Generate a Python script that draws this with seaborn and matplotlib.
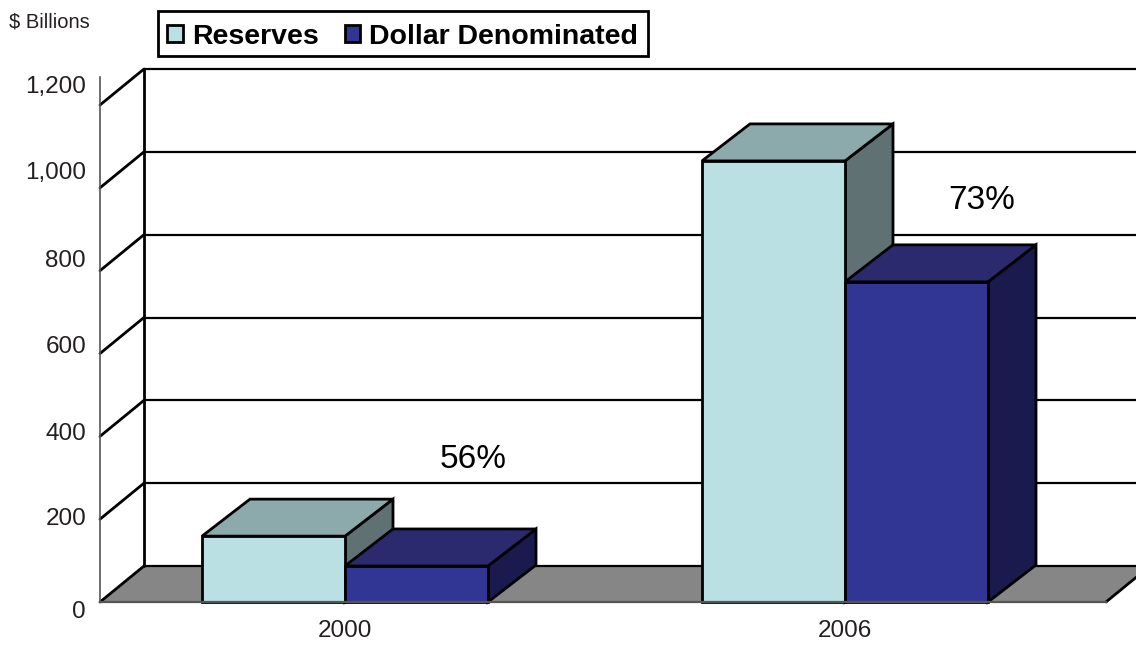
import matplotlib
matplotlib.use("Agg")
import matplotlib.pyplot as plt
from matplotlib.patches import Polygon, Rectangle
from matplotlib.transforms import ScaledTranslation
import pandas as pd
import seaborn as sns

years = ["2000", "2006"]
series_names = ["Reserves", "Dollar Denominated"]
reserves = [159, 1065]
dollar_denominated = [87, 773]
y_ticks = [0, 200, 400, 600, 800, 1000, 1200]
y_tick_labels = ["0", "200", "400", "600", "800", "1,000", "1,200"]
share_labels = ["56%", "73%"]

FRONT = ["#BAE0E3", "#313594"]
TOP = ["#8CAAAC", "#2C2A6E"]
SIDE = ["#5F7173", "#1B1A4E"]
ARIAL = ["Liberation Sans", "DejaVu Sans"]
INK = "#231F20"

sns.set_theme(style="white")
W, H = 1136, 645
fig = plt.figure(figsize=(W / 100, H / 100), dpi=100, facecolor="white")
ax = fig.add_axes([100 / W, (H - 602) / H, 1006 / W, 497 / H])

df = pd.DataFrame({
    "Year": years * 2,
    "Series": [series_names[0]] * 2 + [series_names[1]] * 2,
    "Value": reserves + dollar_denominated,
})
sns.barplot(data=df, x="Year", y="Value", hue="Series", order=years,
            hue_order=series_names, palette=FRONT, width=0.572, gap=0,
            saturation=1, edgecolor="black", linewidth=2, ax=ax, zorder=6)

ax.set_xlim(-0.49, 1.522)
ax.set_ylim(0, 1200)
ax.set_xlabel("")
ax.set_ylabel("")
ax.patch.set_alpha(0)

PX_X = 500.0          # pixels per category
PX_Y = 497 / 1200     # pixels per value unit
wall_dx, wall_dy = 44 / PX_X, 36 / PX_Y
bar_dx, bar_dy = 48 / PX_X, 37 / PX_Y
x0, x1 = ax.get_xlim()

bars = [p for p in ax.patches if isinstance(p, Rectangle) and p.get_height() > 0]

# floor and back wall
ax.add_patch(Polygon([(x0, 0), (x0 + wall_dx, wall_dy), (x1 + wall_dx, wall_dy), (x1, 0)],
                     closed=True, fc="#868686", ec="none", zorder=1, clip_on=False))
for v in y_ticks:
    ax.plot([x0 + wall_dx, x1 + 0.1], [v + wall_dy] * 2, color="black", lw=1.6,
            zorder=1.5, clip_on=False, solid_capstyle="butt")
    ax.plot([x0, x0 + wall_dx], [v, v + wall_dy], color="black", lw=2,
            zorder=1.5, clip_on=False)
ax.plot([x0 + wall_dx] * 2, [wall_dy, 1200 + wall_dy], color="black", lw=2,
        zorder=1.5, clip_on=False)
ax.plot([x1, x1 + wall_dx], [0, wall_dy], color="black", lw=2, zorder=1.5, clip_on=False)

# the 3D faces of each bar, derived from the bars seaborn drew
for i, p in enumerate(bars):
    k = i // 2
    x, w, h = p.get_x(), p.get_width(), p.get_height()
    z = 2 + k
    ax.add_patch(Polygon([(x + w, 0), (x + w + bar_dx, bar_dy), (x + w + bar_dx, h + bar_dy), (x + w, h)],
                         closed=True, fc=SIDE[k], ec="black", lw=2, zorder=z, clip_on=False,
                         joinstyle="miter"))
    ax.add_patch(Polygon([(x, h), (x + bar_dx, h + bar_dy), (x + w + bar_dx, h + bar_dy), (x + w, h)],
                         closed=True, fc=TOP[k], ec="black", lw=2, zorder=z + 0.5, clip_on=False,
                         joinstyle="miter"))
    p.set_clip_on(False)
    p.set_joinstyle("miter")

# axes
for s in ["top", "right"]:
    ax.spines[s].set_visible(False)
ax.spines["left"].set_color("#555555")
ax.spines["left"].set_linewidth(1.2)
ax.spines["left"].set_bounds(0, 1267)
ax.spines["bottom"].set_color("#555555")
ax.spines["bottom"].set_linewidth(1.6)
ax.spines["bottom"].set_zorder(8)

ax.set_yticks(y_ticks, y_tick_labels)
ax.tick_params(axis="y", length=0, pad=10, labelsize=17.5, labelcolor=INK)
ax.tick_params(axis="x", length=0, pad=13, labelsize=17.5, labelcolor=INK)
for lab in ax.get_xticklabels() + ax.get_yticklabels():
    lab.set_family(ARIAL)
# the labels sit a little off their gridlines, as in the source
for lab, up in zip(ax.get_yticklabels(), [-8, 3, 5, 9, 12, 17, 20]):
    lab.set_transform(lab.get_transform() + ScaledTranslation(0, up / 100, fig.dpi_scale_trans))

# share labels
ax.text(0.256, 345, share_labels[0], ha="center", va="center", fontsize=24,
        family=ARIAL, color="black", zorder=9)
ax.text(1.274, 970, share_labels[1], ha="center", va="center", fontsize=24,
        family=ARIAL, color="black", zorder=9)

fig.text(9 / W, 1 - 22 / H, r"\$ Billions", ha="left", va="center", fontsize=14.5,
         family=ARIAL, color=INK)

# legend
handles, labels = ax.get_legend_handles_labels()
old = ax.get_legend()
if old is not None:
    old.remove()
leg = fig.legend(handles, labels, loc="center left", bbox_to_anchor=(158 / W, 1 - 33.5 / H),
                 ncol=2, frameon=True, fancybox=False, framealpha=1, edgecolor="black",
                 borderaxespad=0, borderpad=0.33, handlelength=0.55, handleheight=0.55,
                 handletextpad=0.32, columnspacing=0.9,
                 prop={"family": ARIAL, "weight": "bold", "size": 20.5})
leg.get_frame().set_linewidth(2)
for h in leg.legend_handles:
    h.set_edgecolor("black")
    h.set_linewidth(2)
    h.set_y(h.get_y() - 2)
for t in leg.get_texts():
    t.set_color("black")
    t.set_y(-3)

fig.savefig("out.png", dpi=100, facecolor="white")
